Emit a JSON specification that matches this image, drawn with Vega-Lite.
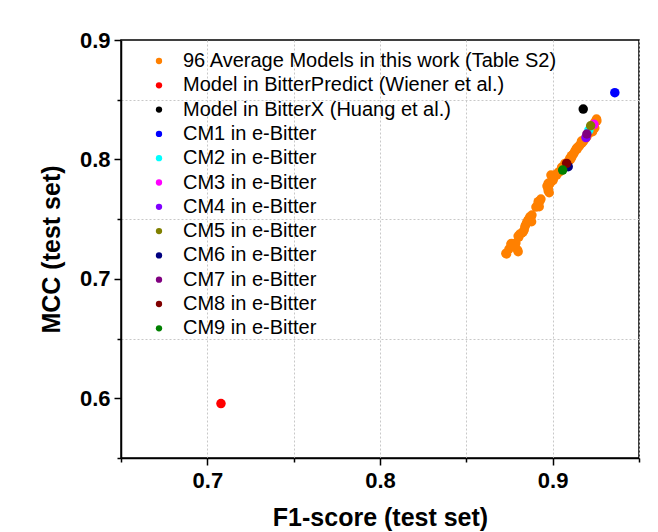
{
"$schema": "https://vega.github.io/schema/vega-lite/v6.json",
"width": 518,
"height": 418,
"autosize": {"type": "none"},
"padding": {"left": 121, "top": 40, "right": 19, "bottom": 74},
"background": "white",
"config": {
  "font": "Liberation Sans",
  "view": {"stroke": "black", "strokeWidth": 1.5},
  "axis": {
    "domainColor": "black", "domainWidth": 1.5,
    "tickColor": "black", "tickWidth": 1.5,
    "labelColor": "black", "titleColor": "black",
    "labelFontSize": 22, "labelFontWeight": "bold",
    "titleFontSize": 25, "titleFontWeight": "bold",
    "grid": true, "gridColor": "#c8c8c8", "gridDash": [2, 2], "gridWidth": 1,
    "labelFlush": false, "labelOverlap": false, "labelBound": false
  }
},
"data": {"values": [
{"f1":0.9254,"mcc":0.8338,"model":"96 Average Models in this work (Table S2)"},
{"f1":0.9244,"mcc":0.8313,"model":"96 Average Models in this work (Table S2)"},
{"f1":0.9233,"mcc":0.8288,"model":"96 Average Models in this work (Table S2)"},
{"f1":0.9244,"mcc":0.8263,"model":"96 Average Models in this work (Table S2)"},
{"f1":0.9231,"mcc":0.8232,"model":"96 Average Models in this work (Table S2)"},
{"f1":0.9216,"mcc":0.8246,"model":"96 Average Models in this work (Table S2)"},
{"f1":0.9211,"mcc":0.8221,"model":"96 Average Models in this work (Table S2)"},
{"f1":0.9198,"mcc":0.8190,"model":"96 Average Models in this work (Table S2)"},
{"f1":0.9187,"mcc":0.8171,"model":"96 Average Models in this work (Table S2)"},
{"f1":0.9177,"mcc":0.8148,"model":"96 Average Models in this work (Table S2)"},
{"f1":0.9167,"mcc":0.8154,"model":"96 Average Models in this work (Table S2)"},
{"f1":0.9158,"mcc":0.8121,"model":"96 Average Models in this work (Table S2)"},
{"f1":0.9154,"mcc":0.8112,"model":"96 Average Models in this work (Table S2)"},
{"f1":0.9142,"mcc":0.8087,"model":"96 Average Models in this work (Table S2)"},
{"f1":0.9138,"mcc":0.8093,"model":"96 Average Models in this work (Table S2)"},
{"f1":0.9129,"mcc":0.8070,"model":"96 Average Models in this work (Table S2)"},
{"f1":0.9123,"mcc":0.8051,"model":"96 Average Models in this work (Table S2)"},
{"f1":0.9119,"mcc":0.8045,"model":"96 Average Models in this work (Table S2)"},
{"f1":0.9109,"mcc":0.8031,"model":"96 Average Models in this work (Table S2)"},
{"f1":0.9104,"mcc":0.8001,"model":"96 Average Models in this work (Table S2)"},
{"f1":0.9096,"mcc":0.7995,"model":"96 Average Models in this work (Table S2)"},
{"f1":0.9088,"mcc":0.7978,"model":"96 Average Models in this work (Table S2)"},
{"f1":0.9077,"mcc":0.7961,"model":"96 Average Models in this work (Table S2)"},
{"f1":0.9071,"mcc":0.7967,"model":"96 Average Models in this work (Table S2)"},
{"f1":0.9065,"mcc":0.7945,"model":"96 Average Models in this work (Table S2)"},
{"f1":0.9052,"mcc":0.7934,"model":"96 Average Models in this work (Table S2)"},
{"f1":0.9042,"mcc":0.7897,"model":"96 Average Models in this work (Table S2)"},
{"f1":0.9030,"mcc":0.7886,"model":"96 Average Models in this work (Table S2)"},
{"f1":0.9023,"mcc":0.7869,"model":"96 Average Models in this work (Table S2)"},
{"f1":0.9013,"mcc":0.7869,"model":"96 Average Models in this work (Table S2)"},
{"f1":0.9003,"mcc":0.7842,"model":"96 Average Models in this work (Table S2)"},
{"f1":0.9003,"mcc":0.7827,"model":"96 Average Models in this work (Table S2)"},
{"f1":0.9000,"mcc":0.7833,"model":"96 Average Models in this work (Table S2)"},
{"f1":0.8990,"mcc":0.7869,"model":"96 Average Models in this work (Table S2)"},
{"f1":0.8988,"mcc":0.7808,"model":"96 Average Models in this work (Table S2)"},
{"f1":0.8984,"mcc":0.7800,"model":"96 Average Models in this work (Table S2)"},
{"f1":0.8974,"mcc":0.7800,"model":"96 Average Models in this work (Table S2)"},
{"f1":0.8974,"mcc":0.7758,"model":"96 Average Models in this work (Table S2)"},
{"f1":0.8974,"mcc":0.7738,"model":"96 Average Models in this work (Table S2)"},
{"f1":0.8980,"mcc":0.7721,"model":"96 Average Models in this work (Table S2)"},
{"f1":0.8967,"mcc":0.7777,"model":"96 Average Models in this work (Table S2)"},
{"f1":0.8926,"mcc":0.7654,"model":"96 Average Models in this work (Table S2)"},
{"f1":0.8916,"mcc":0.7646,"model":"96 Average Models in this work (Table S2)"},
{"f1":0.8922,"mcc":0.7604,"model":"96 Average Models in this work (Table S2)"},
{"f1":0.8913,"mcc":0.7618,"model":"96 Average Models in this work (Table S2)"},
{"f1":0.8916,"mcc":0.7610,"model":"96 Average Models in this work (Table S2)"},
{"f1":0.8874,"mcc":0.7515,"model":"96 Average Models in this work (Table S2)"},
{"f1":0.8878,"mcc":0.7478,"model":"96 Average Models in this work (Table S2)"},
{"f1":0.8868,"mcc":0.7520,"model":"96 Average Models in this work (Table S2)"},
{"f1":0.8858,"mcc":0.7493,"model":"96 Average Models in this work (Table S2)"},
{"f1":0.8858,"mcc":0.7487,"model":"96 Average Models in this work (Table S2)"},
{"f1":0.8849,"mcc":0.7465,"model":"96 Average Models in this work (Table S2)"},
{"f1":0.8843,"mcc":0.7451,"model":"96 Average Models in this work (Table S2)"},
{"f1":0.8839,"mcc":0.7436,"model":"96 Average Models in this work (Table S2)"},
{"f1":0.8835,"mcc":0.7409,"model":"96 Average Models in this work (Table S2)"},
{"f1":0.8829,"mcc":0.7394,"model":"96 Average Models in this work (Table S2)"},
{"f1":0.8800,"mcc":0.7358,"model":"96 Average Models in this work (Table S2)"},
{"f1":0.8804,"mcc":0.7350,"model":"96 Average Models in this work (Table S2)"},
{"f1":0.8781,"mcc":0.7275,"model":"96 Average Models in this work (Table S2)"},
{"f1":0.8762,"mcc":0.7297,"model":"96 Average Models in this work (Table S2)"},
{"f1":0.8758,"mcc":0.7292,"model":"96 Average Models in this work (Table S2)"},
{"f1":0.8797,"mcc":0.7241,"model":"96 Average Models in this work (Table S2)"},
{"f1":0.8800,"mcc":0.7227,"model":"96 Average Models in this work (Table S2)"},
{"f1":0.8781,"mcc":0.7269,"model":"96 Average Models in this work (Table S2)"},
{"f1":0.8733,"mcc":0.7208,"model":"96 Average Models in this work (Table S2)"},
{"f1":0.8729,"mcc":0.7214,"model":"96 Average Models in this work (Table S2)"},
{"f1":0.9256,"mcc":0.8322,"model":"96 Average Models in this work (Table S2)"},
{"f1":0.9238,"mcc":0.8280,"model":"96 Average Models in this work (Table S2)"},
{"f1":0.9221,"mcc":0.8255,"model":"96 Average Models in this work (Table S2)"},
{"f1":0.9204,"mcc":0.8213,"model":"96 Average Models in this work (Table S2)"},
{"f1":0.9192,"mcc":0.8179,"model":"96 Average Models in this work (Table S2)"},
{"f1":0.9181,"mcc":0.8163,"model":"96 Average Models in this work (Table S2)"},
{"f1":0.9169,"mcc":0.8137,"model":"96 Average Models in this work (Table S2)"},
{"f1":0.9146,"mcc":0.8104,"model":"96 Average Models in this work (Table S2)"},
{"f1":0.9134,"mcc":0.8079,"model":"96 Average Models in this work (Table S2)"},
{"f1":0.9111,"mcc":0.8020,"model":"96 Average Models in this work (Table S2)"},
{"f1":0.9100,"mcc":0.8012,"model":"96 Average Models in this work (Table S2)"},
{"f1":0.9082,"mcc":0.7970,"model":"96 Average Models in this work (Table S2)"},
{"f1":0.9059,"mcc":0.7928,"model":"96 Average Models in this work (Table S2)"},
{"f1":0.9053,"mcc":0.7911,"model":"96 Average Models in this work (Table S2)"},
{"f1":0.9036,"mcc":0.7895,"model":"96 Average Models in this work (Table S2)"},
{"f1":0.9024,"mcc":0.7878,"model":"96 Average Models in this work (Table S2)"},
{"f1":0.9007,"mcc":0.7853,"model":"96 Average Models in this work (Table S2)"},
{"f1":0.8995,"mcc":0.7819,"model":"96 Average Models in this work (Table S2)"},
{"f1":0.8978,"mcc":0.7786,"model":"96 Average Models in this work (Table S2)"},
{"f1":0.8932,"mcc":0.7668,"model":"96 Average Models in this work (Table S2)"},
{"f1":0.8920,"mcc":0.7635,"model":"96 Average Models in this work (Table S2)"},
{"f1":0.8903,"mcc":0.7601,"model":"96 Average Models in this work (Table S2)"},
{"f1":0.8880,"mcc":0.7534,"model":"96 Average Models in this work (Table S2)"},
{"f1":0.8862,"mcc":0.7501,"model":"96 Average Models in this work (Table S2)"},
{"f1":0.8851,"mcc":0.7476,"model":"96 Average Models in this work (Table S2)"},
{"f1":0.8822,"mcc":0.7384,"model":"96 Average Models in this work (Table S2)"},
{"f1":0.8810,"mcc":0.7375,"model":"96 Average Models in this work (Table S2)"},
{"f1":0.8770,"mcc":0.7283,"model":"96 Average Models in this work (Table S2)"},
{"f1":0.8747,"mcc":0.7250,"model":"96 Average Models in this work (Table S2)"},
{"f1":0.8787,"mcc":0.7300,"model":"96 Average Models in this work (Table S2)"},
{"f1":0.7079,"mcc":0.5956,"model":"Model in BitterPredict (Wiener et al.)"},
{"f1":0.9177,"mcc":0.8422,"model":"Model in BitterX (Huang et al.)"},
{"f1":0.9360,"mcc":0.8559,"model":"CM1 in e-Bitter"},
{"f1":0.9210,"mcc":0.8246,"model":"CM2 in e-Bitter"},
{"f1":0.9239,"mcc":0.8294,"model":"CM3 in e-Bitter"},
{"f1":0.9193,"mcc":0.8183,"model":"CM4 in e-Bitter"},
{"f1":0.9220,"mcc":0.8282,"model":"CM5 in e-Bitter"},
{"f1":0.9090,"mcc":0.7939,"model":"CM6 in e-Bitter"},
{"f1":0.9198,"mcc":0.8213,"model":"CM7 in e-Bitter"},
{"f1":0.9081,"mcc":0.7967,"model":"CM8 in e-Bitter"},
{"f1":0.9058,"mcc":0.7911,"model":"CM9 in e-Bitter"}
]},
"mark": {"type": "point", "filled": true, "shape": "circle", "size": 90, "opacity": 1},
"encoding": {
  "x": {
    "field": "f1", "type": "quantitative",
    "scale": {"domain": [0.65, 0.95], "nice": false, "zero": false},
    "axis": {
      "title": "F1-score (test set)",
      "values": [0.65, 0.7, 0.75, 0.8, 0.85, 0.9, 0.95],
      "labelExpr": "round(datum.value*100) % 10 == 0 ? format(datum.value, '.1f') : ''",
      "tickSize": {"condition": {"test": "round(datum.value*100) % 10 == 0", "value": 7}, "value": 4},
      "labelPadding": 5,
      "titlePadding": 14
    }
  },
  "y": {
    "field": "mcc", "type": "quantitative",
    "scale": {"domain": [0.55, 0.9], "nice": false, "zero": false},
    "axis": {
      "title": "MCC (test set)",
      "values": [0.55, 0.6, 0.65, 0.7, 0.75, 0.8, 0.85, 0.9],
      "labelExpr": "round(datum.value*100) % 10 == 0 ? format(datum.value, '.1f') : ''",
      "tickSize": {"condition": {"test": "round(datum.value*100) % 10 == 0", "value": 7}, "value": 4},
      "gridOpacity": {"condition": {"test": "round(datum.value*100) % 10 == 0", "value": 0}, "value": 1},
      "labelPadding": 4,
      "titlePadding": 15
    }
  },
  "color": {
    "field": "model", "type": "nominal",
    "scale": {
      "domain": ["96 Average Models in this work (Table S2)", "Model in BitterPredict (Wiener et al.)", "Model in BitterX (Huang et al.)", "CM1 in e-Bitter", "CM2 in e-Bitter", "CM3 in e-Bitter", "CM4 in e-Bitter", "CM5 in e-Bitter", "CM6 in e-Bitter", "CM7 in e-Bitter", "CM8 in e-Bitter", "CM9 in e-Bitter"],
      "range": ["#ff8000", "#ff0000", "#000000", "#0000ff", "#00ffff", "#ff00ff", "#8000ff", "#808000", "#000080", "#800080", "#800000", "#008000"]
    },
    "legend": {
      "title": null,
      "orient": "none",
      "legendX": 28,
      "legendY": 11,
      "padding": 0,
      "symbolType": "circle",
      "symbolSize": 40,
      "symbolStrokeWidth": 0,
      "labelFontSize": 20,
      "labelColor": "black",
      "labelOffset": 14,
      "labelLimit": 500,
      "rowPadding": 4.3
    }
  }
}
}
